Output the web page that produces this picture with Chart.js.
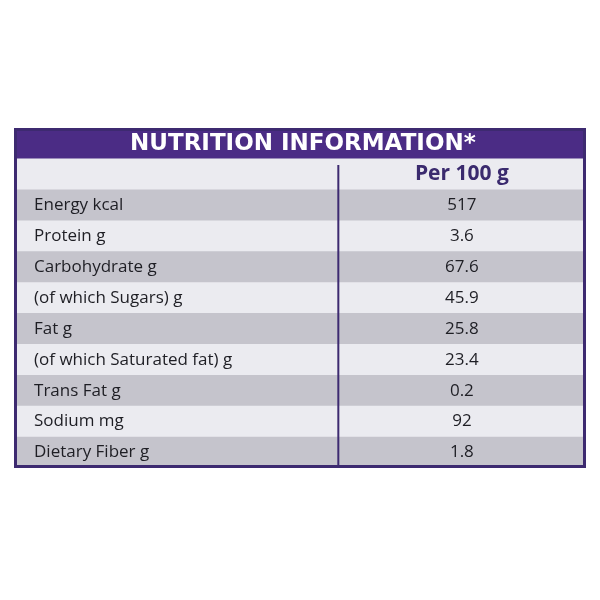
<!DOCTYPE html>
<html>
<head>
<script src="https://cdn.jsdelivr.net/npm/chart.js@4"></script>
<style>
  body { margin: 0; background: #fff; }
  #wrap { position: absolute; left: 14px; top: 128px; width: 572px; height: 340px; }
</style>
</head>
<body>
<div id="wrap"><canvas id="table"></canvas></div>
<script>
const rowNames = ["NUTRITION INFORMATION*", "Per 100 g", "Energy kcal", "Protein g", "Carbohydrate g",
  "(of which Sugars) g", "Fat g", "(of which Saturated fat) g", "Trans Fat g", "Sodium mg", "Dietary Fiber g"];
const rowValues = ["", "", "517", "3.6", "67.6", "45.9", "25.8", "23.4", "0.2", "92", "1.8"];
const rowColors = ["#4b2c85", "#ebebf0", "#c5c4cc", "#ebebf0", "#c5c4cc", "#ebebf0",
  "#c5c4cc", "#ebebf0", "#c5c4cc", "#ebebf0", "#c5c4cc"];

const dividerAt = 0.567;
const valueAt = 0.783;

const tableText = {
  id: "tableText",
  afterDatasetsDraw(chart) {
    const c = chart.ctx, x = chart.scales.x, y = chart.scales.y;
    const area = chart.chartArea;
    const rowH = (area.bottom - area.top) / rowNames.length;
    c.save();
    c.textBaseline = "middle";
    rowNames.forEach((name, i) => {
      const py = y.getPixelForValue(i);
      if (i === 0) {
        c.fillStyle = "#fff";
        c.font = "bold 23px 'DejaVu Sans'";
        c.textAlign = "center";
        c.fillText(name, x.getPixelForValue(0.505), py + 1);
      } else if (i === 1) {
        c.fillStyle = "#3a2a6e";
        c.font = "bold 21px 'Open Sans'";
        c.textAlign = "center";
        c.fillText(name, x.getPixelForValue(valueAt), py);
      } else {
        c.fillStyle = "#1e1e24";
        c.font = "17px 'Open Sans'";
        c.textAlign = "left";
        c.fillText(name, x.getPixelForValue(0.035), py);
        c.textAlign = "center";
        c.fillText(rowValues[i], x.getPixelForValue(valueAt), py);
      }
    });
    // divider and border
    c.strokeStyle = "#3d2a70";
    c.lineWidth = 2;
    c.beginPath();
    const dx = x.getPixelForValue(dividerAt);
    c.moveTo(dx, area.top + rowH * 1.2);
    c.lineTo(dx, area.bottom);
    c.stroke();
    c.lineWidth = 3;
    c.strokeRect(area.left + 1.5, area.top + 1.5, area.right - area.left - 3, area.bottom - area.top - 3);
    c.restore();
  }
};

new Chart(document.getElementById("table"), {
  type: "bar",
  data: {
    labels: rowNames,
    datasets: [{
      data: rowNames.map(() => [0, 1]),
      backgroundColor: rowColors,
      barPercentage: 1,
      categoryPercentage: 1,
      borderWidth: 0
    }]
  },
  options: {
    indexAxis: "y",
    responsive: true,
    maintainAspectRatio: false,
    animation: false,
    layout: { padding: 0 },
    plugins: { legend: { display: false }, tooltip: { enabled: false } },
    scales: {
      x: { display: false, min: 0, max: 1 },
      y: { display: false }
    }
  },
  plugins: [tableText]
});
</script>
</body>
</html>
